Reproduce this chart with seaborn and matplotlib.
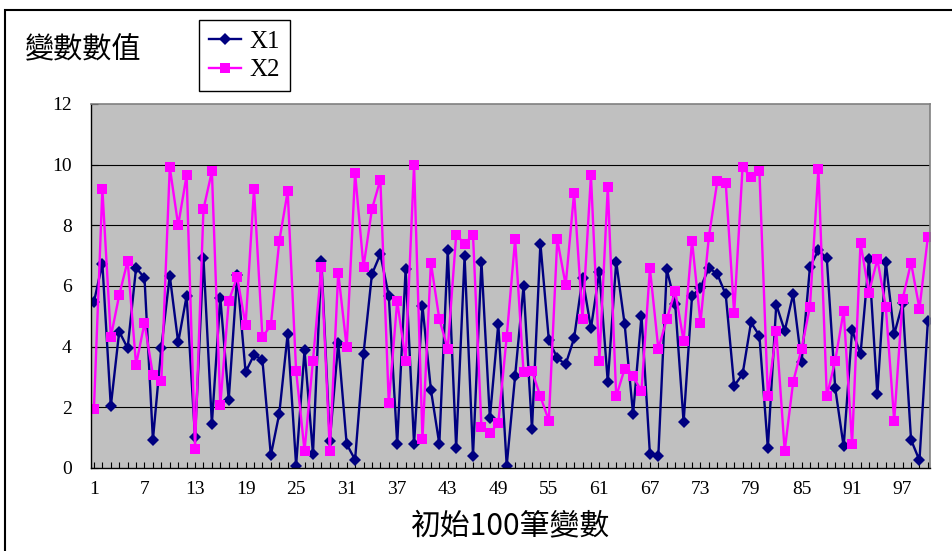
import numpy as np
import pandas as pd
import seaborn as sns
import matplotlib.pyplot as plt
from matplotlib.patches import Rectangle
from matplotlib.ticker import MultipleLocator, FixedLocator

# values
idx = np.arange(1, 101)
x1 = [5.48, 6.74, 2.03, 4.50, 3.95, 6.60, 6.27, 0.93, 3.97, 6.34,
      4.14, 5.67, 1.01, 6.93, 1.46, 5.62, 2.25, 6.36, 3.16, 3.73,
      3.56, 0.42, 1.79, 4.43, 0.08, 3.89, 0.46, 6.83, 0.90, 4.11,
      0.79, 0.27, 3.76, 6.39, 7.05, 5.67, 0.79, 6.56, 0.79, 5.34,
      2.58, 0.79, 7.18, 0.66, 6.98, 0.41, 6.80, 1.64, 4.75, 0.08,
      3.04, 6.00, 1.28, 7.40, 4.22, 3.62, 3.42, 4.28, 6.27, 4.61,
      6.47, 2.83, 6.80, 4.74, 1.78, 5.02, 0.46, 0.41, 6.55, 5.41,
      1.51, 5.67, 5.94, 6.60, 6.39, 5.72, 2.71, 3.09, 4.80, 4.36,
      0.66, 5.39, 4.52, 5.73, 3.48, 6.63, 7.18, 6.91, 2.63, 0.71,
      4.55, 3.75, 6.88, 2.43, 6.80, 4.41, 5.43, 0.93, 0.25, 4.86]
x2 = [1.95, 9.19, 4.31, 5.70, 6.83, 3.40, 4.78, 3.07, 2.87, 9.92,
      8.00, 9.65, 0.64, 8.53, 9.78, 2.08, 5.50, 6.30, 4.71, 9.19,
      4.31, 4.71, 7.48, 9.12, 3.20, 0.57, 3.54, 6.63, 0.57, 6.44,
      3.98, 9.73, 6.63, 8.53, 9.51, 2.14, 5.50, 3.54, 9.98, 0.96,
      6.77, 4.91, 3.93, 7.68, 7.40, 7.68, 1.35, 1.15, 1.48, 4.33,
      7.54, 3.15, 3.20, 2.36, 1.56, 7.54, 6.03, 9.07, 4.91, 9.65,
      3.53, 9.27, 2.36, 3.27, 3.02, 2.54, 6.58, 3.93, 4.91, 5.83,
      4.19, 7.49, 4.79, 7.62, 9.45, 9.40, 5.10, 9.92, 9.59, 9.78,
      2.36, 4.52, 0.57, 2.83, 3.93, 5.32, 9.85, 2.36, 3.54, 5.18,
      0.79, 7.42, 5.78, 6.88, 5.32, 1.56, 5.57, 6.77, 5.25, 7.62]
xticks = list(range(1, 101, 6))
yticks = [0, 2, 4, 6, 8, 10, 12]

df = pd.DataFrame({'i': idx, 'X1': x1, 'X2': x2})

num_font = ['Liberation Serif', 'DejaVu Serif']
cjk_font = ['Noto Sans CJK TC', 'DejaVu Sans']

fig = plt.figure(figsize=(9.53, 5.51), dpi=100)
ax = fig.add_axes([91/953, 1 - 468/551, (930 - 91)/953, (468 - 104)/551])
ax.set_facecolor('#C0C0C0')

sns.lineplot(data=df, x='i', y='X1', ax=ax, color='#000080', lw=1.7,
             marker='D', markersize=6.3, markeredgewidth=0, label='X1')
sns.lineplot(data=df, x='i', y='X2', ax=ax, color='#FF00FF', lw=1.7,
             marker='s', markersize=7.5, markeredgewidth=0, label='X2')

ax.set_xlim(0.65, 100.25)
ax.set_ylim(0, 12)
ax.set_xlabel('')
ax.set_ylabel('')
ax.xaxis.set_major_locator(FixedLocator(xticks))
ax.xaxis.set_minor_locator(MultipleLocator(1))
ax.set_yticks(yticks)
ax.set_xticklabels([str(t) for t in xticks], family=num_font, fontsize=14)
ax.set_yticklabels([str(t) for t in yticks], family=num_font, fontsize=14)
ax.tick_params(axis='x', which='both', direction='in', length=4, width=0.8, pad=9)
ax.tick_params(axis='y', which='major', direction='in', length=5, width=0.8, pad=14)

for y in yticks[1:-1]:
    ax.axhline(y, color='black', lw=0.8, zorder=1)
for s in ['left', 'bottom']:
    ax.spines[s].set_color('black')
    ax.spines[s].set_linewidth(1.0)
for s in ['top', 'right']:
    ax.spines[s].set_color('#808080')
    ax.spines[s].set_linewidth(1.2)

leg = ax.legend(loc='upper left', bbox_to_anchor=(199/953, 1 - 20/551),
                bbox_transform=fig.transFigure, borderaxespad=0,
                prop={'family': num_font, 'size': 18}, frameon=True,
                fancybox=False, edgecolor='black', framealpha=1,
                handlelength=1.3, handletextpad=0.3, labelspacing=0.25,
                borderpad=0.4)
leg.get_frame().set_linewidth(1.0)

fig.text(25/953, 1 - 50/551, '變數數值', family=cjk_font, fontsize=21,
         ha='left', va='center')
fig.text(511/953, 1 - 526/551, '初始100筆變數', family=cjk_font, fontsize=21.5,
         ha='center', va='center')

# chart area frame
fig.patches.append(Rectangle((5/953, -0.05), 1.2, 1.05 - 10/551,
                             transform=fig.transFigure, fill=False,
                             edgecolor='black', lw=1.5))

fig.savefig('out.png', dpi=100)
